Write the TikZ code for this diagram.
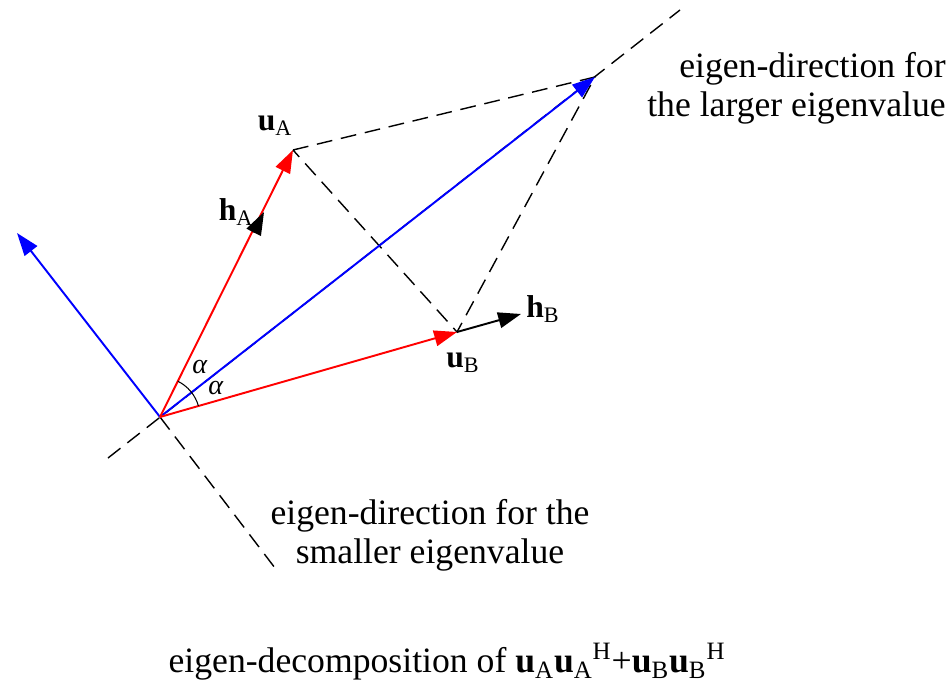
\documentclass[tikz,border=0pt]{standalone}
\usepackage{fontspec}
\setmainfont{Liberation Serif}
\usetikzlibrary{arrows.meta,angles,calc}
\tikzset{vecarrow/.style={line width=1.1pt,-{Triangle[length=13pt,width=9pt]}},
  eigline/.style={line width=0.8pt,dash pattern=on 9pt off 5pt},
  lbl/.style={font=\fontsize{18}{22}\selectfont,inner sep=0pt},
  txt/.style={font=\fontsize{20.3}{22.2}\selectfont,inner sep=0pt}}

\begin{document}
\begin{tikzpicture}[x=0.02cm,y=-0.02cm]
  \useasboundingbox (0,0) rectangle (950,682);
  % origin, the two vectors and their sum
  \coordinate (O) at (160,417);
  \coordinate (uA) at (293,150);
  \coordinate (uB) at (457,332);
  \coordinate (S) at (595,77);
  \coordinate (hA) at (264,212);
  \coordinate (hB) at (521,314);
  \coordinate (small) at (17,233);
  % eigen-directions, dashed
  \coordinate (big1) at (108,458);
  \coordinate (big2) at (680,10);
  \coordinate (small2) at (275,568);
  \draw[eigline] (big1) -- (big2);
  \draw[eigline] (O) -- (small2);
  \draw[eigline] (uA) -- (S) -- (uB) -- cycle;
  % vectors
  \draw[vecarrow, blue] (O) -- (S);
  \draw[vecarrow, blue] (O) -- (small);
  \draw[vecarrow, red] (O) -- (uA);
  \draw[vecarrow, red] (O) -- (uB);
  \draw[vecarrow] ($(O)!0.9!(hA)$) -- (hA);
  \draw[vecarrow] (uB) -- (hB);
  \pic[draw, line width=0.6pt, angle radius=0.8cm] {angle=uB--O--uA};
  % labels
  \node[lbl] (luA) at (275,126) {\textbf{u}\textsubscript{A}};
  \node[lbl] (lhA) at (236,212) {\textbf{h}\textsubscript{A}};
  \node[lbl] (luB) at (463,363) {\textbf{u}\textsubscript{B}};
  \node[lbl] (lhB) at (543,309) {\textbf{h}\textsubscript{B}};
  \node[lbl, font=\fontsize{16}{18}\selectfont] (al1) at (200,367) {\textit{α}};
  \node[lbl, font=\fontsize{16}{18}\selectfont] (al2) at (216,388) {\textit{α}};
  \node[txt, align=right, anchor=east] (tbig) at (946,88)
    {eigen-direction for\\the larger eigenvalue};
  \node[txt, align=center] (tsmall) at (430,535)
    {eigen-direction for the\\smaller eigenvalue};
  \node[txt] (cap) at (447,662) {eigen-decomposition of
    \textbf{u}\textsubscript{A}\textbf{u}\textsubscript{A}\textsuperscript{H}+\textbf{u}\textsubscript{B}\textbf{u}\textsubscript{B}\textsuperscript{H}};
\end{tikzpicture}
\end{document}
